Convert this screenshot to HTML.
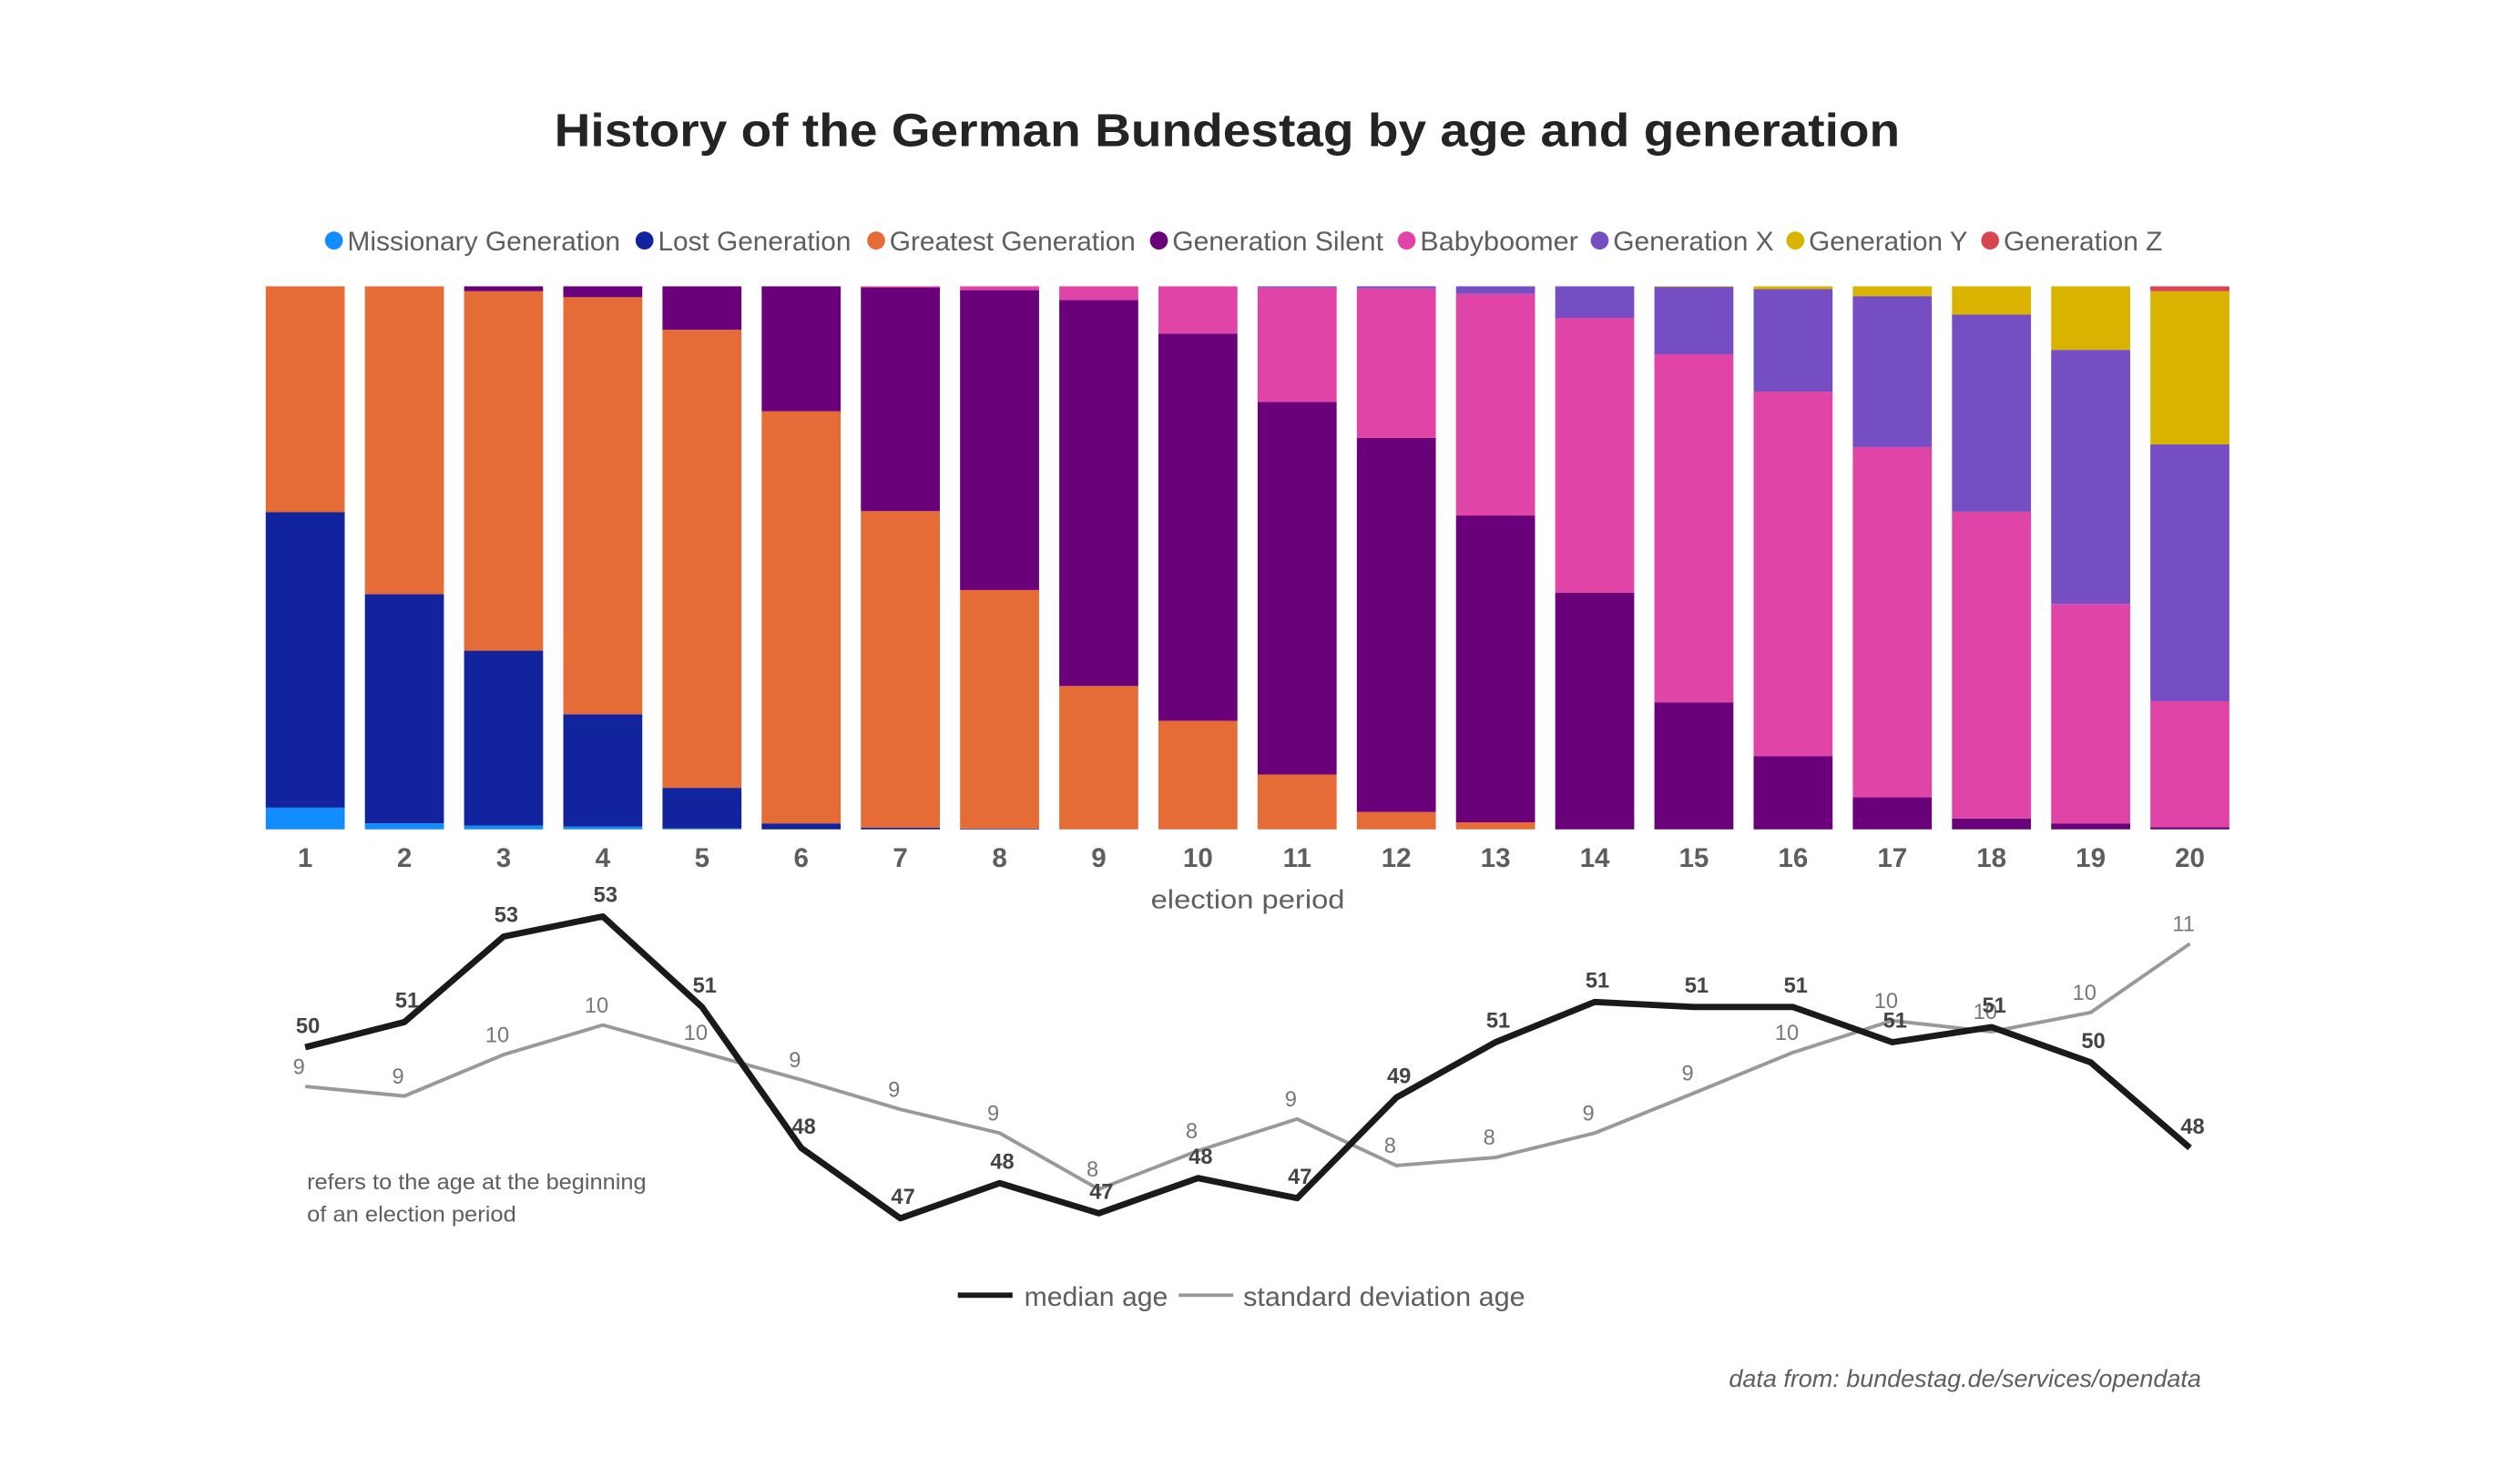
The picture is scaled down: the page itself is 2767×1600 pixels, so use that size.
<!DOCTYPE html>
<html><head><meta charset="utf-8"><style>
html,body{margin:0;padding:0;background:#fff;}
svg{display:block;font-family:"Liberation Sans","DejaVu Sans",sans-serif;}
</style></head><body>
<svg id="chart" width="2767" height="1600" viewBox="0 0 2767 1600" xmlns="http://www.w3.org/2000/svg">
<g transform="scale(0.98566)">
<text x="1367" y="163" text-anchor="middle" font-size="52" font-weight="bold" fill="#252423" textLength="1499" lengthAdjust="spacingAndGlyphs">History of the German Bundestag by age and generation</text>
<g id="legend"></g>
<g id="bars"></g>
<g id="xaxis"></g>
<text x="1390" y="1012" text-anchor="middle" font-size="29" fill="#605e5c" textLength="216" lengthAdjust="spacingAndGlyphs">election period</text>
<g id="lines"></g>
<text x="342" y="1325" font-size="24" fill="#605e5c" textLength="378" lengthAdjust="spacingAndGlyphs">refers to the age at the beginning</text>
<text x="342" y="1361" font-size="24" fill="#605e5c" textLength="233" lengthAdjust="spacingAndGlyphs">of an election period</text>
<g>
<line x1="1067" y1="1443" x2="1128" y2="1443" stroke="#1a1a1a" stroke-width="6"/>
<text x="1141" y="1455" font-size="30" fill="#605e5c" textLength="160" lengthAdjust="spacingAndGlyphs">median age</text>
<line x1="1313" y1="1443" x2="1374" y2="1443" stroke="#999" stroke-width="4"/>
<text x="1385" y="1455" font-size="30" fill="#605e5c" textLength="314" lengthAdjust="spacingAndGlyphs">standard deviation age</text>
</g>
<text x="2452" y="1545" text-anchor="end" font-size="27" font-style="italic" fill="#605e5c" textLength="526" lengthAdjust="spacingAndGlyphs">data from: bundestag.de/services/opendata</text>
</g>
</svg>
<script>
const periods = ["1","2","3","4","5","6","7","8","9","10","11","12","13","14","15","16","17","18","19","20"];
const generations = ["Missionary Generation","Lost Generation","Greatest Generation","Generation Silent","Babyboomer","Generation X","Generation Y","Generation Z"];
const genColors = ["#118dff","#12239e","#e66c37","#6b007b","#e044a7","#744ec2","#d9b300","#d64550"];
const missionary = [4.0,1.1,0.7,0.5,0.15,0,0,0,0,0,0,0,0,0,0,0,0,0,0,0];
const lost = [54.4,42.2,32.2,20.7,7.5,1.1,0.3,0.15,0,0,0,0,0,0,0,0,0,0,0,0];
const greatest = [41.6,56.7,66.2,76.8,84.4,75.9,58.3,43.9,26.4,20.0,10.1,3.2,1.3,0,0,0,0,0,0,0];
const silent = [0,0,0.9,2.0,8.0,23.0,41.2,55.2,71.1,71.3,68.6,68.9,56.5,43.6,23.4,13.5,5.9,2.0,1.1,0.4];
const boomer = [0,0,0,0,0,0,0.2,0.7,2.5,8.7,21.1,27.5,40.8,50.6,64.1,67.1,64.5,56.5,40.4,23.2];
const genX = [0,0,0,0,0,0,0,0,0,0,0.2,0.4,1.4,5.8,12.4,18.9,27.8,36.3,46.8,47.3];
const genY = [0,0,0,0,0,0,0,0,0,0,0,0,0,0,0.1,0.5,1.8,5.2,11.7,28.2];
const genZ = [0,0,0,0,0,0,0,0,0,0,0,0,0,0,0,0,0,0,0,0.9];
const medianAge = [50.4,50.9,52.6,53.0,51.2,48.4,47.0,47.7,47.1,47.8,47.4,49.4,50.5,51.3,51.2,51.2,50.5,50.8,50.1,48.4];
const stdAge = [9.24,9.11,9.67,10.07,9.70,9.33,8.93,8.61,7.85,8.37,8.80,8.17,8.28,8.61,9.15,9.70,10.13,9.98,10.24,11.17];

const NS = "http://www.w3.org/2000/svg";
function mk(tag, attrs, parent){const e=document.createElementNS(NS,tag);for(const k in attrs)e.setAttribute(k,attrs[k]);parent.appendChild(e);return e;}
const series=[missionary,lost,greatest,silent,boomer,genX,genY,genZ];
const barLeft0=296, pitch=110.5, barW=88, plotTop=319, plotBot=924;
function xCenter(i){return barLeft0+i*pitch+barW/2;}
function yPct(p){return plotBot-(p/100)*(plotBot-plotTop);}
function yMed(v){return 1021+(53-v)*56.06;}
function yStd(v){return 1189+(9.5-v)*82.4;}

const legDot=[372,718,976,1291,1567,1782,2000,2217];
const legW=[304,215,274,235,176,179,177,177];
const lg=document.getElementById('legend');
generations.forEach((g,i)=>{
  const c=mk('circle',{cx:legDot[i],cy:268,r:10,fill:genColors[i]},lg);
  
  
  const t=mk('text',{x:legDot[i]+15,y:279,'font-size':30,fill:'#605e5c',textLength:legW[i],lengthAdjust:'spacingAndGlyphs'},lg);
  
  
  t.textContent=g;
});

const bg=document.getElementById('bars');
const xg=document.getElementById('xaxis');
periods.forEach((p,i)=>{
  let cum=0;
  const total=series.reduce((a,ss)=>a+ss[i],0);
  series.forEach((s,k)=>{
    const v=s[i]; if(v<=0) return;
    const y0=yPct(cum/total*100), y1=yPct((cum+v)/total*100);
    const r=mk('rect',{x:barLeft0+i*pitch,y:y1,width:barW,height:Math.max(0,y0-y1),fill:genColors[k]},bg);
    
    
    cum+=v;
  });
  const t=mk('text',{x:xCenter(i),y:966,'text-anchor':'middle','font-size':30,'font-weight':'bold',fill:'#605e5c'},xg);
  
  
  t.textContent=p;
});

const lgp=document.getElementById('lines');
const stdPts=stdAge.map((v,i)=>xCenter(i)+','+yStd(v)).join(' ');
const sl=mk('polyline',{points:stdPts,fill:'none',stroke:'#999','stroke-width':4,'stroke-linejoin':'round'},lgp);


const medPts=medianAge.map((v,i)=>xCenter(i)+','+yMed(v)).join(' ');
const ml=mk('polyline',{points:medPts,fill:'none',stroke:'#1a1a1a','stroke-width':7,'stroke-linejoin':'round'},lgp);


stdAge.forEach((v,i)=>{
  const t=mk('text',{x:xCenter(i)-7,y:yStd(v)-14,'text-anchor':'middle','font-size':24,fill:'#777'},lgp);
  
  
  t.textContent=Math.round(v);
});
medianAge.forEach((v,i)=>{
  const t=mk('text',{x:xCenter(i)+3,y:yMed(v)-16,'text-anchor':'middle','font-size':24,'font-weight':'bold',fill:'#444'},lgp);
  
  
  t.textContent=Math.round(v);
});
</script>
</body></html>
